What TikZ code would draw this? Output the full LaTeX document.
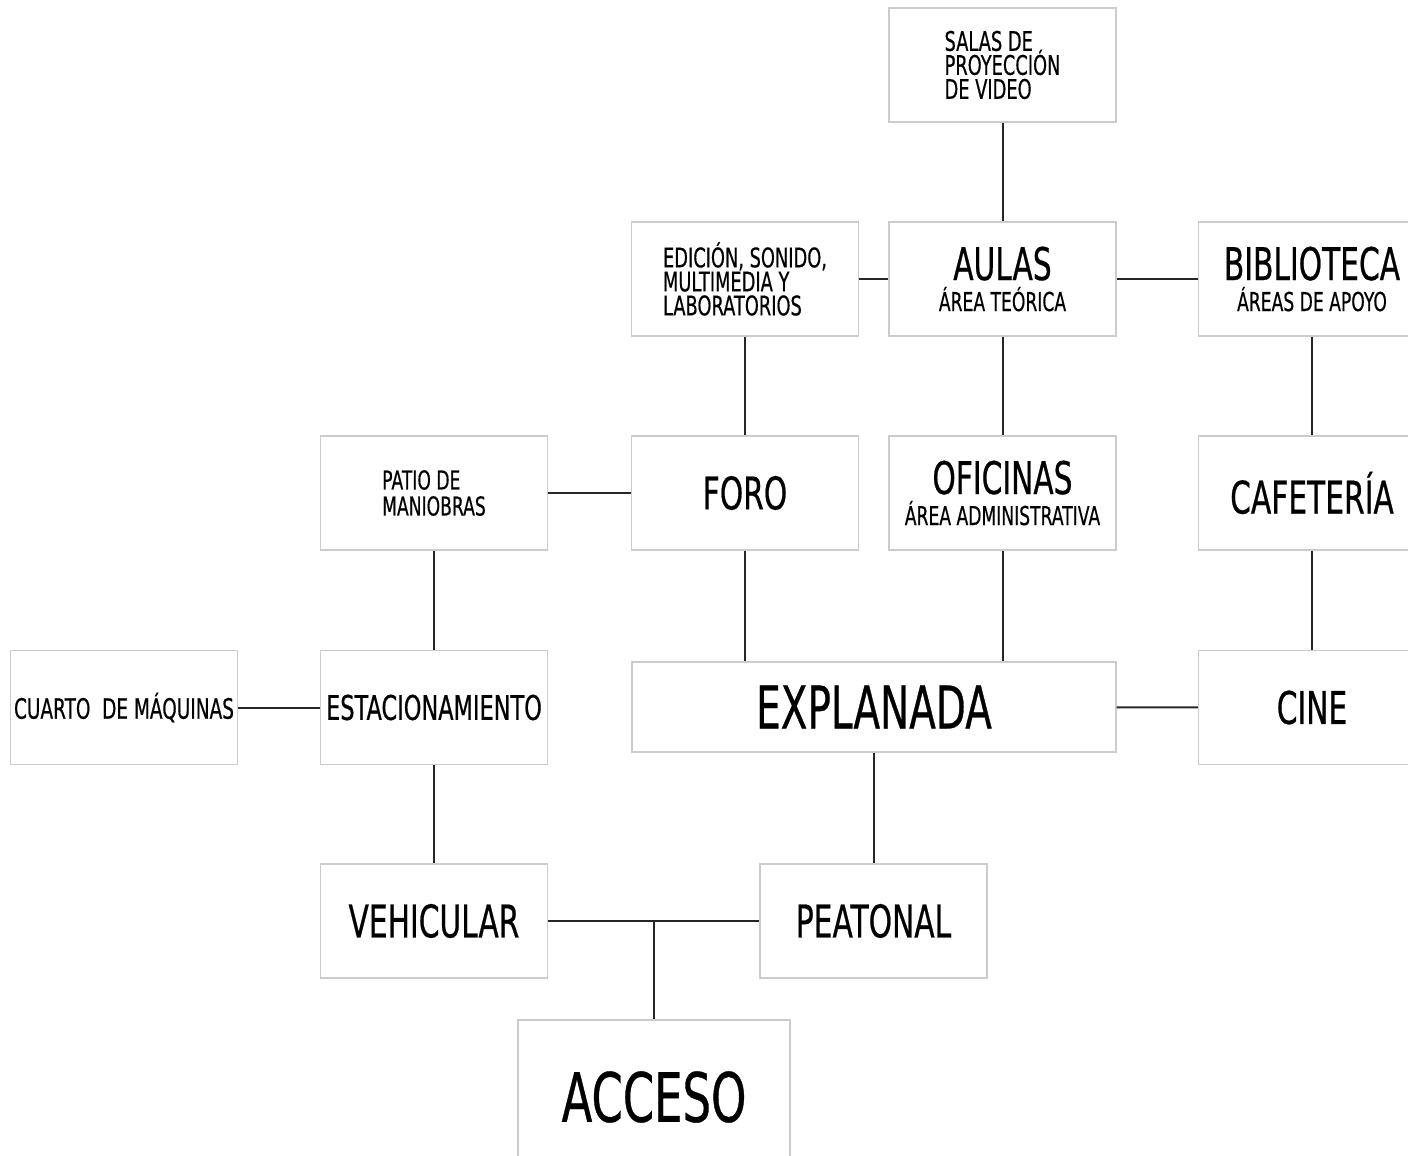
\documentclass[tikz,border=0pt]{standalone}
\usepackage{fontspec}
\setmainfont{DejaVu Sans}[FakeStretch=0.66,FakeBold=0.5]

\begin{document}
\begin{tikzpicture}[x=0.5pt,y=-0.5pt]

\tikzset{area/.style = {shape=rectangle,draw=gray!40,line width=0.7pt,minimum width=113.5pt,minimum height=57pt,inner sep=0pt,align=center}}
\tikzset{link/.style = {draw=black!85,line width=1pt}}
\tikzset{big/.style = {font=\fontsize{22.5}{24}\selectfont}}
\tikzset{titled/.style = {font=\fontsize{13}{15.5}\selectfont}}
\tikzset{note/.style = {font=\fontsize{13.5}{12}\selectfont,execute at begin node={\lineskiplimit=-20pt\relax},align=left}}

\useasboundingbox (0,0) rectangle (1408,1156);

%areas
\node[area, note] (salas) at (1002.5,65) {SALAS DE\\PROYECCIÓN\\DE VIDEO};
\node[area, note] (edicion) at (745,279) {EDICIÓN, SONIDO,\\MULTIMEDIA Y\\LABORATORIOS};
\node[area, titled] (aulas) at (1002.5,279) {{\fontsize{22.5}{24}\selectfont AULAS}\\ÁREA TEÓRICA};
\node[area, titled] (biblioteca) at (1312,279) {{\fontsize{22.5}{24}\selectfont BIBLIOTECA}\\ÁREAS DE APOYO};
\node[area, note, font=\fontsize{13}{13}\selectfont] (patio) at (434,493) {PATIO DE\\MANIOBRAS};
\node[area, big] (foro) at (745,493) {FORO};
\node[area, titled] (oficinas) at (1002.5,493) {{\fontsize{22.5}{24}\selectfont OFICINAS}\\ÁREA ADMINISTRATIVA};
\node[area, big] (cafeteria) at (1312,493) {CAFETERÍA};
\node[area, font=\fontsize{14}{16}\selectfont] (cuarto) at (124,707.5) {CUARTO~ DE MÁQUINAS};
\node[area, font=\fontsize{17}{19}\selectfont] (estacionamiento) at (434,707.5) {ESTACIONAMIENTO};
\node[area, minimum width=242pt, minimum height=45pt, font=\fontsize{29.5}{31}\selectfont] (explanada) at (874,707) {EXPLANADA};
\node[area, big] (cine) at (1312,707.5) {CINE};
\node[area, big] (vehicular) at (434,921) {VEHICULAR};
\node[area, big] (peatonal) at (873.5,921) {PEATONAL};
\node[area, minimum width=136pt, minimum height=77pt, font=\fontsize{34}{36}\selectfont] (acceso) at (654,1097) {ACCESO};

%links
\draw[link] (salas) -- (aulas);
\draw[link] (edicion) -- (aulas);
\draw[link] (aulas) -- (biblioteca);
\draw[link] (edicion) -- (foro);
\draw[link] (aulas) -- (oficinas);
\draw[link] (biblioteca) -- (cafeteria);
\draw[link] (patio) -- (foro);
\draw[link] (patio) -- (estacionamiento);
\draw[link] (foro.south) -- (foro.south |- explanada.north);
\draw[link] (oficinas.south) -- (oficinas.south |- explanada.north);
\draw[link] (cafeteria) -- (cine);
\draw[link] (cuarto) -- (estacionamiento);
\draw[link] (explanada) -- (cine);
\draw[link] (estacionamiento) -- (vehicular);
\draw[link] (peatonal.north |- explanada.south) -- (peatonal.north);
\coordinate (split) at (acceso.north |- vehicular.east);
\draw[link] (vehicular) -- (peatonal);
\draw[link] (split) -- (acceso);

\end{tikzpicture}
\end{document}
